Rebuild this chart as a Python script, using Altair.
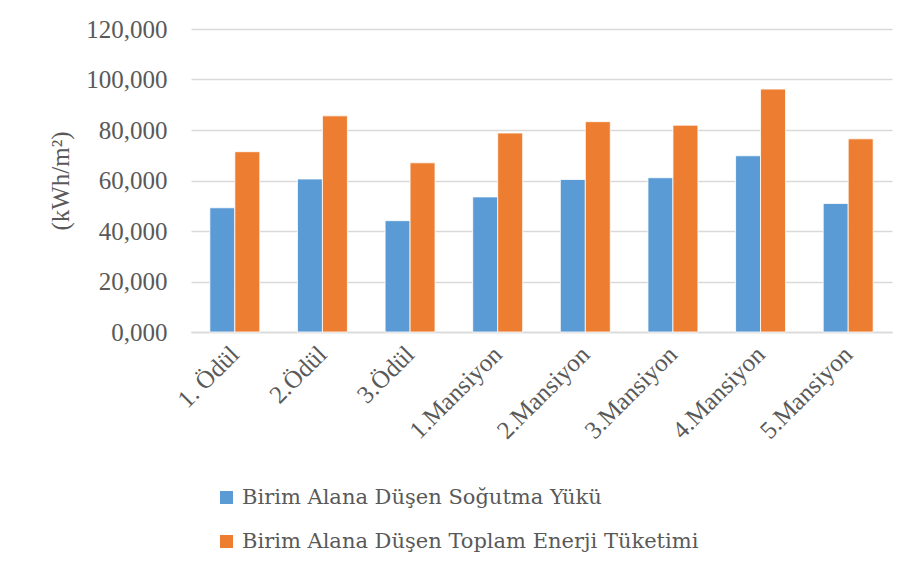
import altair as alt
import pandas as pd

categories = ["1. Ödül", "2.Ödül", "3.Ödül", "1.Mansiyon", "2.Mansiyon",
              "3.Mansiyon", "4.Mansiyon", "5.Mansiyon"]
series_names = ["Birim Alana Düşen Soğutma Yükü",
                "Birim Alana Düşen Toplam Enerji Tüketimi"]
sogutma = [49.2, 60.6, 44.1, 53.5, 60.4, 61.1, 69.8, 50.9]
toplam = [71.4, 85.6, 67.0, 78.8, 83.3, 81.9, 96.2, 76.5]
colors = ["#5B9BD5", "#ED7D31"]

rows = []
for i, c in enumerate(categories):
    rows.append({"kategori": c, "seri": series_names[0], "deger": sogutma[i]})
    rows.append({"kategori": c, "seri": series_names[1], "deger": toplam[i]})
df = pd.DataFrame(rows)

FONT = "Liberation Serif"
LFONT = "DejaVu Serif"
GREY = "#595959"

chart = alt.Chart(df).mark_bar(stroke="white", strokeWidth=0.8).encode(
    x=alt.X("kategori:N", sort=categories,
            scale=alt.Scale(paddingInner=0.43, paddingOuter=0.215),
            axis=alt.Axis(title=None, labelAngle=-45, labelFontSize=25,
                          labelFont=FONT, labelColor=GREY, ticks=False, grid=False,
                          domain=True, domainColor="#D9D9D9", domainWidth=1.3,
                          labelPadding=18, labelAlign="right", labelBaseline="middle")),
    xOffset=alt.XOffset("seri:N", sort=series_names,
                        scale=alt.Scale(paddingInner=0, paddingOuter=0)),
    y=alt.Y("deger:Q",
            scale=alt.Scale(domain=[0, 120], nice=False),
            axis=alt.Axis(title="(kWh/m²)", values=[0, 20, 40, 60, 80, 100, 120],
                          labelExpr="replace(format(datum.value, '.3f'), '.', ',')",
                          labelFontSize=25, labelFont=FONT, labelColor=GREY,
                          labelFontWeight="normal",
                          titleFont=FONT, titleFontSize=25, titleColor=GREY,
                          titleFontWeight="normal", titlePadding=12,
                          labelPadding=24, ticks=False, domain=False,
                          grid=True, gridColor="#D9D9D9", gridWidth=1.3)),
    color=alt.Color("seri:N", sort=series_names,
                    scale=alt.Scale(domain=series_names, range=colors),
                    legend=alt.Legend(title=None, orient="none", legendX=25, legendY=458,
                                      direction="vertical", symbolType="square",
                                      symbolSize=170, symbolStrokeWidth=0,
                                      labelFont=LFONT, labelFontSize=21,
                                      labelColor=GREY,
                                      labelLimit=600, rowPadding=22, labelOffset=5)),
).properties(
    width=701, height=303,
    background="white",
    autosize=alt.AutoSizeParams(type="none"),
    padding={"left": 183, "top": 21, "right": 11, "bottom": 240},
).configure_view(
    strokeWidth=0,
)

chart.save("out.html", embed_options={"renderer": "svg", "actions": False})
